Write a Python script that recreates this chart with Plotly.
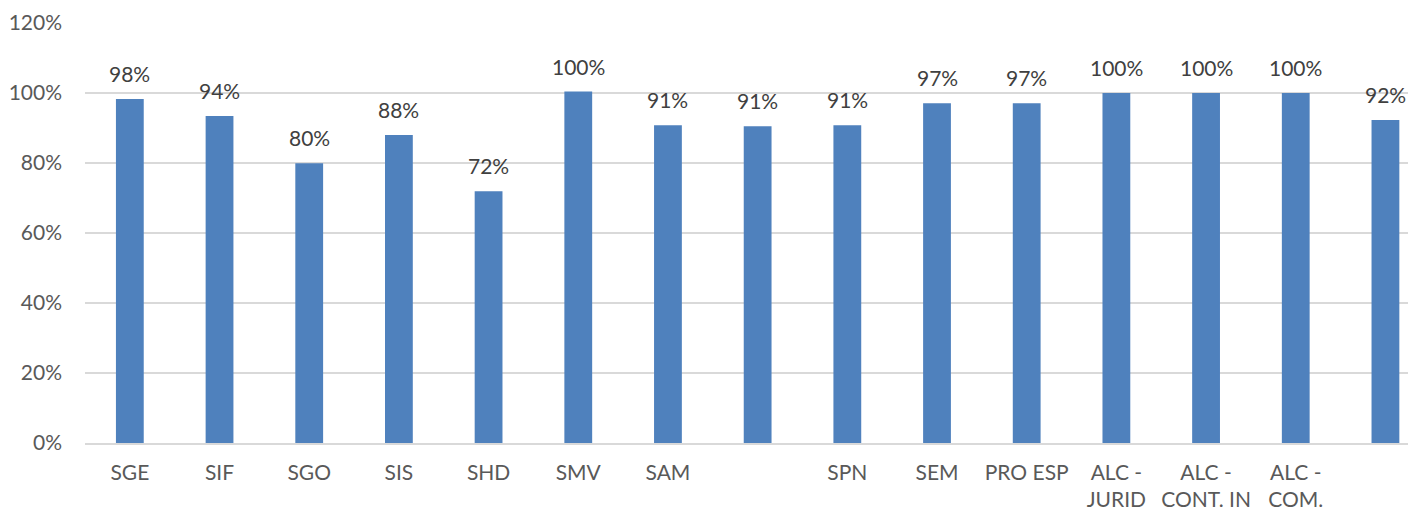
import plotly.graph_objects as go

categories = ["SGE", "SIF", "SGO", "SIS", "SHD", "SMV", "SAM", "", "SPN", "SEM",
              "PRO ESP", "ALC -<br>JURID", "ALC -<br>CONT. IN", "ALC -<br>COM.", ""]
values = [0.983, 0.934, 0.799, 0.880, 0.719, 1.004, 0.908, 0.905, 0.908, 0.971,
          0.971, 1.000, 1.000, 1.000, 0.923]
labels = ["98%", "94%", "80%", "88%", "72%", "100%", "91%", "91%", "91%", "97%",
          "97%", "100%", "100%", "100%", "92%"]

xs = list(range(len(categories)))
font_family = "Lato, 'Noto Sans', sans-serif"
text_color = "#404040"

fig = go.Figure(go.Bar(
    x=xs, y=values, width=0.31,
    marker=dict(color="#4f81bd", line=dict(width=0)),
    hoverinfo="skip",
))

for x, v, t in zip(xs, values, labels):
    fig.add_annotation(x=x, y=v, text=t, showarrow=False, yanchor="bottom",
                       yshift=11, font=dict(family=font_family, size=21, color=text_color))

fig.update_layout(
    width=1416, height=513,
    margin=dict(l=77, r=0, t=15, b=78),
    paper_bgcolor="white", plot_bgcolor="white",
    showlegend=False,
    font=dict(family=font_family, size=21, color="#595959"),
)
fig.update_xaxes(
    range=[-0.5, 14.43], tickmode="array", tickvals=xs, ticktext=categories,
    showgrid=False, showline=True, linecolor="#d9d9d9", linewidth=1.5,
    ticks="", ticklabelstandoff=10, tickfont=dict(size=21, color="#595959"),
    zeroline=False, automargin=False,
)
fig.update_yaxes(
    range=[0, 1.2], tickvals=[0, 0.2, 0.4, 0.6, 0.8, 1.0, 1.2], tickformat=".0%",
    showgrid=True, gridcolor="#d9d9d9", gridwidth=1.5, zeroline=False,
    showline=False, ticks="", ticklabelstandoff=22,
    tickfont=dict(size=21, color="#595959"), automargin=False,
)

fig.write_html("out.html")
